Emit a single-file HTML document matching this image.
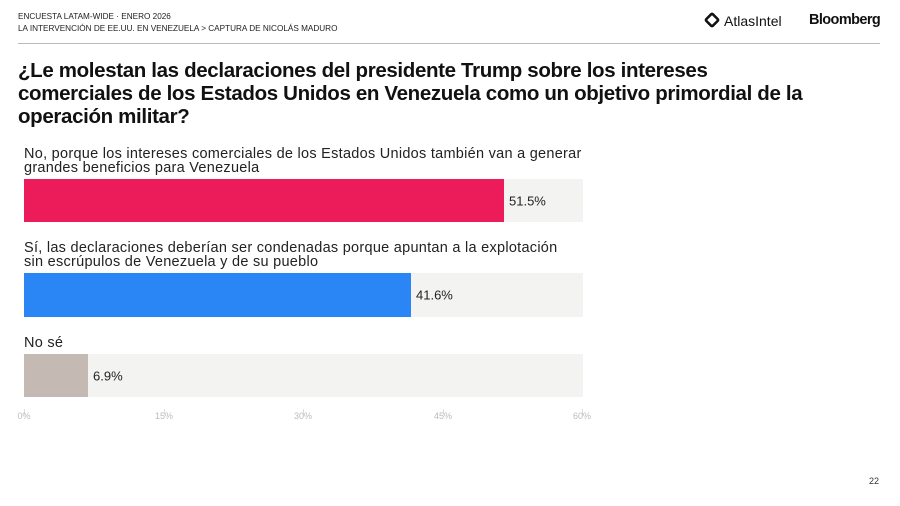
<!DOCTYPE html>
<html><head><meta charset="utf-8"><style>
body{margin:0;width:900px;height:506px;background:#fff;font-family:"Liberation Sans",sans-serif;position:relative;overflow:hidden;color:#111}
.a{position:absolute;white-space:nowrap}
.hd{font-size:8.2px;left:18px;color:#222}
.t{left:18px;top:59px;font-size:20.5px;font-weight:bold;line-height:23px;letter-spacing:-0.35px}
.lb{left:24px;font-size:14.5px;line-height:14px;color:#222;letter-spacing:0.27px}
.bg{position:absolute;left:24px;width:559px;background:#f3f3f1}
.bar{position:absolute;left:0;top:0;bottom:0}
.v{position:absolute;top:50%;transform:translateY(-50%);font-size:13px;color:#222}
.tk{position:absolute;top:409px;width:1px;height:6px;background:#ddd}
.tl{position:absolute;top:411px;font-size:9px;color:#bbb;transform:translateX(-50%)}
</style></head><body>
<div class="a hd" style="top:12px">ENCUESTA LATAM-WIDE · ENERO 2026</div>
<div class="a hd" style="top:24px">LA INTERVENCIÓN DE EE.UU. EN VENEZUELA &gt; CAPTURA DE NICOLÁS MADURO</div>
<div class="a" style="left:705px;top:13px;width:14px;height:14px;border:3.5px solid #111;box-sizing:border-box;transform:rotate(45deg) scale(.85);border-radius:3px"></div>
<div class="a" style="left:724px;top:13px;font-size:14px">AtlasIntel</div>
<div class="a" style="left:809px;top:12px;font-size:14.5px;font-weight:bold;letter-spacing:-0.6px">Bloomberg</div>
<div class="a" style="left:18px;top:43px;width:862px;height:1px;background:#bbb"></div>
<div class="a t">¿Le molestan las declaraciones del presidente Trump sobre los intereses<br>comerciales de los Estados Unidos en Venezuela como un objetivo primordial de la<br>operación militar?</div>
<div class="a lb" style="top:147px">No, porque los intereses comerciales de los Estados Unidos también van a generar<br>grandes beneficios para Venezuela</div>
<div class="bg" style="top:179px;height:43px"><div class="bar" style="width:480px;background:#ec1b5a"></div><div class="v" style="left:485px">51.5%</div></div>
<div class="a lb" style="top:241px">Sí, las declaraciones deberían ser condenadas porque apuntan a la explotación<br>sin escrúpulos de Venezuela y de su pueblo</div>
<div class="bg" style="top:273px;height:44px"><div class="bar" style="width:387px;background:#2b86f5"></div><div class="v" style="left:392px">41.6%</div></div>
<div class="a lb" style="top:336px">No sé</div>
<div class="bg" style="top:354px;height:43px"><div class="bar" style="width:64px;background:#c5b9b3"></div><div class="v" style="left:69px">6.9%</div></div>
<div class="tk" style="left:24px"></div><div class="tk" style="left:164px"></div><div class="tk" style="left:303px"></div><div class="tk" style="left:443px"></div><div class="tk" style="left:582px"></div>
<div class="tl" style="left:24px">0%</div><div class="tl" style="left:164px">15%</div><div class="tl" style="left:303px">30%</div><div class="tl" style="left:443px">45%</div><div class="tl" style="left:582px">60%</div>
<div class="a" style="left:869px;top:476px;font-size:9px;color:#333">22</div>
</body></html>
